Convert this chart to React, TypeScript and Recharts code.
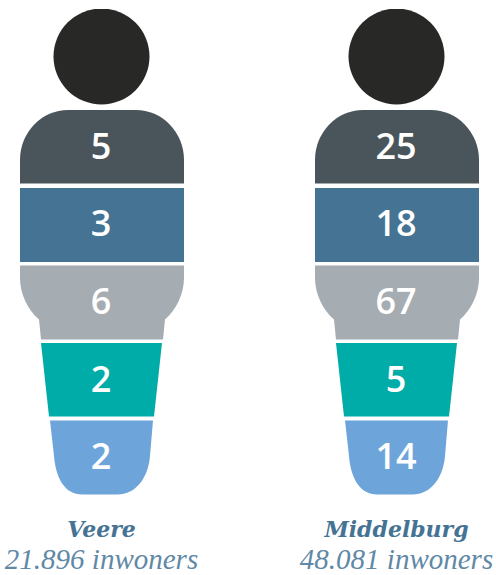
import { BarChart, Bar, XAxis, YAxis, LabelList } from "recharts";

// ---------------------------------------------------------------------------
// Data
// ---------------------------------------------------------------------------

const categories = ["Veere", "Middelburg"];
const inhabitants = ["21.896 inwoners", "48.081 inwoners"];

// counts per body part, top to bottom
const shoulders = [5, 25];
const chest = [3, 18];
const hips = [6, 67];
const thighs = [2, 5];
const feet = [2, 14];

const seriesValues = [shoulders, chest, hips, thighs, feet];
const seriesColors = ["#4a555b", "#457394", "#a5acb2", "#00aca7", "#6da5db"];
// labels don't sit quite in the middle of each part
const labelShift = [-2.5, -2.5, -1.5, -0.5, 0];

// the picture is a pictogram: every body part has the same height
const BAND = 1;
const HEAD_BAND = 101 / 77;
const BODY_BANDS = 5;

const CHART_WIDTH = 496;
const CHART_HEIGHT = 575;

const chartData = categories.map((name, i) => {
  const row: Record<string, string | number> = { name, inhabitants: inhabitants[i], head: HEAD_BAND };
  seriesValues.forEach((values, s) => {
    row[`band${s}`] = BAND;
    row[`value${s}`] = values[i];
  });
  return row;
});

// ---------------------------------------------------------------------------
// Body part shapes
// ---------------------------------------------------------------------------

interface ShapeProps {
  x: number;
  y: number;
  width: number;
  height: number;
  fill?: string;
}

function Shoulders({ x, y, width, fill }: ShapeProps) {
  const r = x + width;
  const d = `M${x} ${y + 73.5} V${y + 50} A48 50 0 0 1 ${x + 48} ${y} H${r - 48} A48 50 0 0 1 ${r} ${y + 50} V${y + 73.5} Z`;
  return <path d={d} fill={fill} />;
}

function Chest({ x, y, width, fill }: ShapeProps) {
  return <rect x={x} y={y + 1} width={width} height={74} fill={fill} />;
}

function Hips({ x, y, width, fill }: ShapeProps) {
  const r = x + width;
  const d =
    `M${x} ${y + 1.5} H${r} V${y + 14} C${r} ${y + 30} ${r - 8} ${y + 46} ${r - 19} ${y + 55.5}` +
    ` L${r - 21} ${y + 75.5} H${x + 21} L${x + 19} ${y + 55.5} C${x + 8} ${y + 46} ${x} ${y + 30} ${x} ${y + 14} Z`;
  return <path d={d} fill={fill} />;
}

function Thighs({ x, y, width, fill }: ShapeProps) {
  const r = x + width;
  const d = `M${x + 21} ${y + 2} H${r - 22} L${r - 30} ${y + 75.5} H${x + 29} Z`;
  return <path d={d} fill={fill} />;
}

function Feet({ x, y, width, fill }: ShapeProps) {
  const r = x + width;
  const d =
    `M${x + 30} ${y + 2.5} H${r - 31} L${r - 34} ${y + 38} C${r - 36} ${y + 62} ${r - 50} ${y + 76.5} ${r - 66} ${y + 76.5}` +
    ` H${x + 62} C${x + 46} ${y + 76.5} ${x + 36} ${y + 62} ${x + 34} ${y + 38} Z`;
  return <path d={d} fill={fill} />;
}

function Head({ x, y, width }: ShapeProps) {
  return <circle cx={x + width / 2 - 0.5} cy={y + 47.5} r={48} fill="#282826" />;
}

const bodyShapes = [Feet, Thighs, Hips, Chest, Shoulders];

// ---------------------------------------------------------------------------
// Axis tick: place name + number of inhabitants
// ---------------------------------------------------------------------------

function PlaceTick({ x, y, payload, index }: any) {
  return (
    <g>
      <text
        x={x}
        y={y + 34}
        textAnchor="middle"
        fontFamily="'DejaVu Serif'"
        fontStyle="italic"
        fontWeight={700}
        fontSize={22}
        fill="#457394"
      >
        {payload.value}
      </text>
      <text
        x={x}
        y={y + 66}
        textAnchor="middle"
        fontFamily="'Liberation Serif'"
        fontStyle="italic"
        fontSize={29}
        fill="#5f89a6"
      >
        {inhabitants[index]}
      </text>
    </g>
  );
}

// ---------------------------------------------------------------------------
// Component
// ---------------------------------------------------------------------------

export default function App() {
  // bottom part first, since stacking starts at the axis
  const order = [4, 3, 2, 1, 0];

  return (
    <div style={{ width: CHART_WIDTH, height: CHART_HEIGHT, overflow: "hidden" }}>
      <style>{"body { margin: 0; }"}</style>
      <BarChart
        width={CHART_WIDTH}
        height={CHART_HEIGHT}
        data={chartData}
        barSize={164}
        margin={{ top: 9, right: -48, bottom: 0, left: -46 }}
      >
        <XAxis dataKey="name" height={80} axisLine={false} tickLine={false} interval={0} tick={<PlaceTick />} />
        <YAxis hide domain={[0, BODY_BANDS + HEAD_BAND]} allowDataOverflow />
        {order.map((s, i) => (
          <Bar
            key={s}
            dataKey={`band${s}`}
            stackId="person"
            fill={seriesColors[s]}
            shape={bodyShapes[i] as any}
            isAnimationActive={false}
          >
            <LabelList
              dataKey={`value${s}`}
              position="center"
              fill="#ffffff"
              fontFamily="'Open Sans'"
              fontWeight={600}
              fontSize={36}
              dx={-1}
              dy={labelShift[s]}
            />
          </Bar>
        ))}
        <Bar dataKey="head" stackId="person" shape={Head as any} isAnimationActive={false} />
      </BarChart>
    </div>
  );
}
